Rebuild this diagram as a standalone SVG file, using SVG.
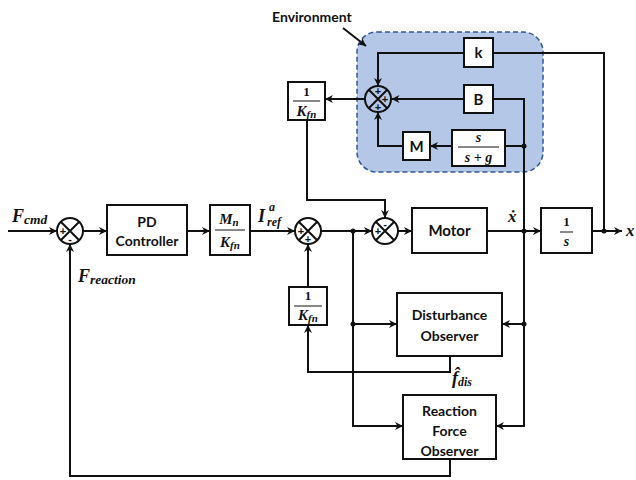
<svg xmlns="http://www.w3.org/2000/svg" width="636" height="480" viewBox="0 0 636 480">
<defs>
<marker id="ah" viewBox="0 0 10 10" refX="10" refY="5" markerWidth="9" markerHeight="8" orient="auto" markerUnits="userSpaceOnUse"><path d="M0,0 L10,5 L0,10 L3,5 z" fill="#111"/></marker>
<style>
.box{fill:#fff;stroke:#111;stroke-width:2}
.ln{fill:none;stroke:#111;stroke-width:2}
.ar{fill:none;stroke:#111;stroke-width:2;marker-end:url(#ah)}
.sum{fill:none;stroke:#111;stroke-width:2}
.dot{fill:#111}
.lbl{font-family:Lato,"Open Sans",sans-serif;font-weight:bold;fill:#111;text-anchor:middle}
.m{font-family:"Liberation Serif",serif;font-weight:bold;font-style:italic;fill:#111}
.mc{font-family:"Liberation Serif",serif;font-weight:bold;font-style:italic;fill:#111;text-anchor:middle}
.num{font-family:"Liberation Serif",serif;font-weight:bold;fill:#111;text-anchor:middle}
.sg{font-family:"Liberation Sans",sans-serif;font-weight:bold;font-size:11px;fill:#111;text-anchor:middle}
.fl{stroke:#111;stroke-width:1}
</style>
</defs>
<rect width="636" height="480" fill="#fff"/>

<g id="environment">
<rect x="357" y="32" width="186" height="140" rx="20" fill="#b4c7e7" stroke="#2f5597" stroke-width="1.5" stroke-dasharray="5,3"/>
<text x="272" y="22" font-family="Lato,'Open Sans',sans-serif" font-weight="bold" font-size="14" fill="#111">Environment</text>
<path class="ar" d="M343,28 L366,46"/>
</g>

<g id="connectors">
<path class="ar" d="M8,231 H57"/>
<path class="ar" d="M83,231 H107"/>
<path class="ar" d="M187,231 H210"/>
<path class="ar" d="M250,231 H295"/>
<path class="ar" d="M321,231 H372"/>
<path class="ar" d="M398,231 H412"/>
<path class="ar" d="M487,231 H541"/>
<path class="ar" d="M592,231 H622"/>
<path class="ln" d="M604,231 V53 H493"/>
<path class="ar" d="M464,53 H378 V86"/>
<path class="ar" d="M464,99 H391.5"/>
<path class="ln" d="M524,231 V99 H493"/>
<path class="ln" d="M524,146 H505"/>
<path class="ar" d="M452,146 H430"/>
<path class="ar" d="M403,146 H378 V112"/>
<path class="ar" d="M365,99 H325"/>
<path class="ar" d="M307,120 V200 H385 V218"/>
<path class="ar" d="M353,231 V426 H403"/>
<path class="ar" d="M353,324 H397"/>
<path class="ar" d="M524,231 V426 H496"/>
<path class="ar" d="M524,324 H502"/>
<path class="ar" d="M450,356 V372 H308 V325"/>
<path class="ar" d="M308,287 V244"/>
<path class="ar" d="M450,459 V476 H70 V244"/>
<circle class="dot" cx="353" cy="231" r="2.5"/>
<circle class="dot" cx="353" cy="324" r="2.5"/>
<circle class="dot" cx="524" cy="231" r="2.5"/>
<circle class="dot" cx="524" cy="324" r="2.5"/>
<circle class="dot" cx="524" cy="146" r="2.5"/>
<circle class="dot" cx="604" cy="231" r="2.5"/>
</g>

<g id="sum1">
<circle class="sum" cx="70" cy="231" r="13"/>
<path class="ln" d="M60.8,221.8 L79.2,240.2 M79.2,221.8 L60.8,240.2"/>
<text class="sg" x="63" y="235">+</text>
<text class="sg" x="70" y="243">-</text>
</g>
<g id="sum2">
<circle class="sum" cx="308" cy="231" r="13"/>
<path class="ln" d="M298.8,221.8 L317.2,240.2 M317.2,221.8 L298.8,240.2"/>
<text class="sg" x="301" y="235">+</text>
<text class="sg" x="308" y="243">+</text>
</g>
<g id="sum3">
<circle class="sum" cx="385" cy="231" r="13"/>
<path class="ln" d="M375.8,221.8 L394.2,240.2 M394.2,221.8 L375.8,240.2"/>
<text class="sg" x="378" y="235">+</text>
<text class="sg" x="385" y="228">-</text>
</g>
<g id="sumEnv">
<circle class="sum" cx="378" cy="99" r="13"/>
<path class="ln" d="M368.8,89.8 L387.2,108.2 M387.2,89.8 L368.8,108.2"/>
<text class="sg" x="378" y="95">+</text>
<text class="sg" x="385" y="103">+</text>
<text class="sg" x="378" y="111">+</text>
</g>

<g id="pd">
<rect class="box" x="107" y="205" width="80" height="50"/>
<text class="lbl" x="147" y="227" font-size="14">PD</text>
<text class="lbl" x="147" y="246" font-size="14">Controller</text>
</g>
<g id="mnkfn">
<rect class="box" x="210" y="205" width="40" height="50"/>
<text class="mc" x="229" y="224" font-size="15">M<tspan font-size="11" dy="2">n</tspan></text>
<line class="fl" x1="215" y1="230" x2="245" y2="230"/>
<text class="mc" x="230" y="247" font-size="15">K<tspan font-size="11" dy="2">fn</tspan></text>
</g>
<g id="motor">
<rect class="box" x="412" y="208" width="75" height="45"/>
<text class="lbl" x="449.5" y="236" font-size="15">Motor</text>
</g>
<g id="integrator">
<rect class="box" x="541" y="208" width="51" height="45"/>
<text class="num" x="566.5" y="226" font-size="13">1</text>
<line class="fl" x1="560" y1="232" x2="573" y2="232"/>
<text class="mc" x="566.5" y="246" font-size="14">s</text>
</g>
<g id="k">
<rect class="box" x="464" y="38" width="29" height="29"/>
<text class="lbl" x="478.5" y="58" font-size="15">k</text>
</g>
<g id="b">
<rect class="box" x="464" y="85" width="29" height="28"/>
<text class="lbl" x="478.5" y="104.5" font-size="15">B</text>
</g>
<g id="filter">
<rect class="box" x="452" y="130" width="53" height="36"/>
<text class="mc" x="478.5" y="142" font-size="14">s</text>
<line class="fl" x1="458" y1="147" x2="499" y2="147"/>
<text class="mc" x="478.5" y="162" font-size="14">s + g</text>
</g>
<g id="m">
<rect class="box" x="403" y="132" width="27" height="28"/>
<text class="lbl" x="416.5" y="151.5" font-size="15">M</text>
</g>
<g id="kfnTop">
<rect class="box" x="288" y="82" width="37" height="38"/>
<text class="num" x="306.5" y="96" font-size="13">1</text>
<line class="fl" x1="293" y1="101" x2="320" y2="101"/>
<text class="mc" x="306.5" y="116" font-size="15">K<tspan font-size="11" dy="2">fn</tspan></text>
</g>
<g id="kfnBottom">
<rect class="box" x="289" y="287" width="38" height="38"/>
<text class="num" x="308" y="300" font-size="13">1</text>
<line class="fl" x1="294" y1="306" x2="322" y2="306"/>
<text class="mc" x="308" y="320" font-size="15">K<tspan font-size="11" dy="2">fn</tspan></text>
</g>
<g id="dob">
<rect class="box" x="397" y="293" width="105" height="63"/>
<text class="lbl" x="449.5" y="320" font-size="14">Disturbance</text>
<text class="lbl" x="449.5" y="341" font-size="14">Observer</text>
</g>
<g id="rfob">
<rect class="box" x="403" y="395" width="93" height="64"/>
<text class="lbl" x="449.5" y="416" font-size="14">Reaction</text>
<text class="lbl" x="449.5" y="436" font-size="14">Force</text>
<text class="lbl" x="449.5" y="456" font-size="14">Observer</text>
</g>

<g id="labels">
<text class="m" x="12" y="222" font-size="18">F<tspan font-size="13.5" dy="2">cmd</tspan></text>
<text class="m" x="78" y="282" font-size="18">F<tspan font-size="13.5" dy="2">reaction</tspan></text>
<text class="m" x="258" y="222" font-size="18">I</text>
<text class="m" x="269" y="211" font-size="12">a</text>
<text class="m" x="267" y="226" font-size="12">ref</text>
<text class="m" x="508" y="222" font-size="17">ẋ</text>
<text class="m" x="626" y="236" font-size="17">x</text>
<text class="m" x="452" y="384" font-size="18">f̂<tspan font-size="12" dy="2">dis</tspan></text>
</g>
</svg>
